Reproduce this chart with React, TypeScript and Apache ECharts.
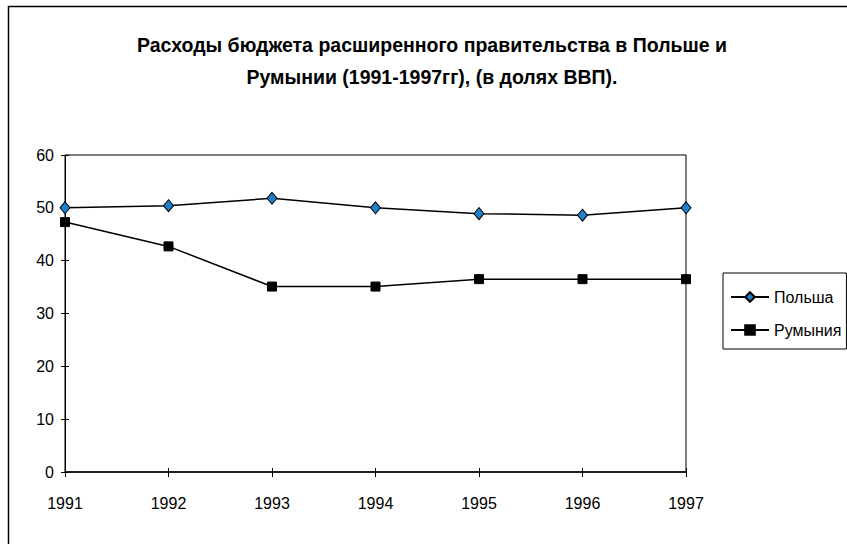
import React, { useEffect, useRef } from "react";
import * as echarts from "echarts";

const TITLE = "Расходы бюджета расширенного правительства в Польше и\nРумынии (1991-1997гг), (в долях ВВП).";
const years = ["1991", "1992", "1993", "1994", "1995", "1996", "1997"];
const seriesNames = ["Польша", "Румыния"];
const poland = [50.0, 50.4, 51.8, 50.0, 48.9, 48.6, 50.0];
const romania = [47.3, 42.7, 35.1, 35.1, 36.5, 36.5, 36.5];
const yMin = 0;
const yMax = 60;
const yStep = 10;

const SANS = '"Liberation Sans", Arial, sans-serif';

export default function App() {
  const ref = useRef<HTMLDivElement>(null);
  useEffect(() => {
    if (!ref.current) return;
    const chart = echarts.init(ref.current, null, { renderer: "svg" });
    const axisLabel = { color: "#000", fontFamily: SANS, fontSize: 16 };
    chart.setOption({
      animation: false,
      backgroundColor: "#fff",
      title: {
        text: TITLE,
        left: 432,
        top: 29,
        padding: 0,
        textAlign: "center",
        textStyle: { fontFamily: SANS, fontWeight: "bold", fontSize: 19.5, lineHeight: 32, color: "#000" },
      },
      graphic: [
        {
          type: "rect",
          shape: { x: 8.5, y: 6.5, width: 1000, height: 1000 },
          style: { fill: "none", stroke: "#000", lineWidth: 1.5 },
          silent: true,
        },
      ],
      legend: {
        orient: "vertical",
        left: 723,
        top: 273,
        padding: [14, 5, 9, 7],
        itemGap: 13,
        itemWidth: 38,
        itemHeight: 12,
        borderColor: "#000",
        borderWidth: 1,
        data: seriesNames,
        textStyle: { fontFamily: SANS, fontSize: 16, lineHeight: 20, color: "#000" },
      },
      grid: {
        left: 65,
        right: 161,
        top: 155,
        bottom: 72,
        show: true,
        borderColor: "#000",
        borderWidth: 1,
        backgroundColor: "transparent",
      },
      xAxis: [
        {
          type: "category",
          data: years,
          boundaryGap: false,
          axisLine: { lineStyle: { color: "#000", width: 1.5 } },
          axisTick: { show: true, length: 5, lineStyle: { color: "#000" } },
          axisLabel: { ...axisLabel, margin: 23 },
          splitLine: { show: false },
        },
        {
          type: "category",
          data: years,
          boundaryGap: false,
          position: "bottom",
          axisLine: { show: false },
          axisTick: { show: true, inside: true, length: 4, lineStyle: { color: "#000" } },
          axisLabel: { show: false },
          splitLine: { show: false },
        },
      ],
      yAxis: [
        {
          type: "value",
          min: yMin,
          max: yMax,
          interval: yStep,
          axisLine: { show: true, lineStyle: { color: "#000", width: 1 } },
          axisTick: { show: true, length: 4, lineStyle: { color: "#000" } },
          axisLabel: { ...axisLabel, margin: 11 },
          splitLine: { show: false },
        },
        {
          type: "value",
          min: yMin,
          max: yMax,
          interval: yStep,
          position: "left",
          axisLine: { show: false },
          axisTick: { show: true, inside: true, length: 4, lineStyle: { color: "#000" } },
          axisLabel: { show: false },
          splitLine: { show: false },
        },
      ],
      series: [
        {
          name: seriesNames[0],
          type: "line",
          data: poland,
          symbol: "diamond",
          symbolSize: [10, 12],
          showAllSymbol: true,
          lineStyle: { color: "#000", width: 1.5 },
          itemStyle: { color: "#1e80c8", borderColor: "#000", borderWidth: 1 },
          emphasis: { disabled: true },
        },
        {
          name: seriesNames[1],
          type: "line",
          data: romania,
          symbol: "rect",
          symbolSize: 9,
          showAllSymbol: true,
          lineStyle: { color: "#000", width: 1.5 },
          itemStyle: { color: "#000", borderColor: "#000", borderWidth: 1 },
          emphasis: { disabled: true },
        },
      ],
    });
    return () => chart.dispose();
  }, []);
  return (
    <div
      ref={ref}
      style={{ position: "fixed", left: 0, top: 0, width: 847, height: 544, background: "#fff" }}
    />
  );
}
